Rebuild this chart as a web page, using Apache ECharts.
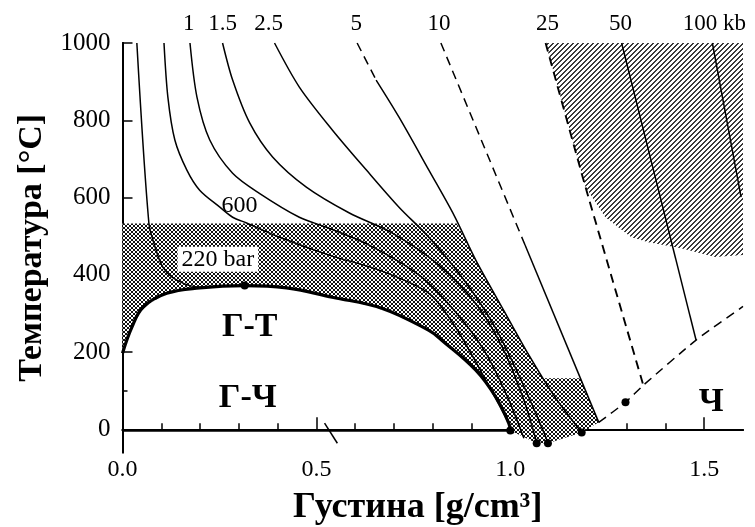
<!DOCTYPE html>
<html><head><meta charset="utf-8">
<script src="https://cdn.jsdelivr.net/npm/echarts@6/dist/echarts.min.js"></script>
<style>html,body{margin:0;padding:0;background:#fff}#c{width:755px;height:527px}</style>
</head><body><div id="c"></div>
<script>
// ---- axis ticks / labels ----
const xLabelValues = [0, 0.5, 1.0, 1.5];
const xMajorTicks = [0.5, 1.0, 1.5];
const xMinorTicks = [0.1,0.2,0.3,0.4,0.6,0.7,0.8,0.9,1.1,1.2,1.3,1.4];
const yMajorTicks = [0, 200, 400, 600, 800, 1000];
const yMinorTicks = [100];
const topLabelX = [0.171, 0.258, 0.377, 0.603, 0.816, 1.096, 1.284, 1.526];
const topLabels = ['1', '1.5', '2.5', '5', '10', '25', '50', '100 kb'];

// ---- curves [density, temperature] ----
const dome = [[0.0,197],[0.024,264],[0.053,316],[0.114,352],[0.199,366],[0.315,372],[0.423,366],[0.541,342],[0.67,313],[0.79,256],[0.824,230],[0.911,153],[0.963,83],[0.996,16],[1.0,-3]];
const iso220 = [[0.037,1000],[0.068,534],[0.084,472],[0.104,420],[0.140,386],[0.199,368],[0.25,370]];
const iso600 = [[0.107,1000],[0.117,860],[0.135,749],[0.166,671],[0.199,619],[0.251,575],[0.284,549],[0.320,534],[0.405,497],[0.533,451],[0.662,412],[0.790,352],[0.855,270],[0.919,160],[0.970,65],[1.009,-10]];
const iso1k = [[0.174,1000],[0.192,860],[0.225,749],[0.284,663],[0.353,611],[0.456,549],[0.526,523],[0.636,477],[0.765,399],[0.855,308],[0.932,205],[0.991,88],[1.035,-23]];
const iso15k = [[0.258,1000],[0.284,904],[0.328,793],[0.387,705],[0.474,627],[0.585,560],[0.696,508],[0.816,425],[0.914,321],[0.983,205],[1.035,75],[1.068,-34]];
const iso25k = [[0.392,1000],[0.456,886],[0.541,775],[0.629,671],[0.713,575],[0.790,497],[0.881,386],[0.958,269],[1.022,140],[1.068,36],[1.097,-34]];
const iso5kDash = [[0.605,1000],[0.654,904]];
const iso5k = [[0.654,904],[0.713,808],[0.790,671],[0.855,554],[0.911,438],[0.983,308],[1.048,192],[1.112,88],[1.156,28],[1.184,-8]];
const iso10kDash = [[0.821,1000],[1.038,477]];
const iso10k = [[1.038,477],[1.228,18]];
const iso25kbDash = [[1.091,1000],[1.194,627],[1.343,114]];
const iso50k = [[1.287,1000],[1.479,231]];
const iso100k = [[1.521,1000],[1.595,601]];
const meltLine = [[1.228,18],[1.297,70],[1.343,114],[1.479,231],[1.6,318]];
const zeroLine = [[0,-4.3],[1.0,-4.3]];
const arrowMark = [[0.521,16],[0.554,-36]];
const dots = [[0.315,372],[1.0,-3],[1.068,-36],[1.097,-36],[1.184,-8],[1.297,70]];

// ---- shaded regions ----
const crossUpper = [[0,533],[0.862,533],[0.911,438],[0.983,308],[1.048,192],[1.085,132],[1.181,132],[1.228,18],[1.184,-8],[1.097,-36],[1.068,-36]];
const hatchRegion = [[1.091,1000],[1.6,1000],[1.6,451],[1.528,446],[1.441,469],[1.356,484],[1.312,497],[1.245,549],[1.194,627]];

// ---- text annotations ----
const annText = ['600', '220 bar', 'Г-Т', 'Г-Ч', 'Ч'];
const annPos = [[0.302,580],[0.246,440],[0.328,264],[0.323,80],[1.518,70]];

function pattern(size, fn, color) {
  const c = document.createElement('canvas'); c.width = c.height = size;
  const g = c.getContext('2d'); g.fillStyle = '#fff'; g.fillRect(0,0,size,size);
  g.fillStyle = color;
  for (let i=0;i<size;i++) for (let j=0;j<size;j++) if (fn(i,j)) g.fillRect(i,j,1,1);
  return {image: c, repeat: 'repeat'};
}
const crossFill = pattern(4, (i,j)=> i===j || i+j===3, '#111');
const hatchFill = pattern(5, (i,j)=> (i+j)%5===0 || (i+j)%5===1, '#3a3a3a');

const SERIF = '"Liberation Serif","Times New Roman",serif';

function poly(points, fill) {
  return {type:'custom', coordinateSystem:'cartesian2d', silent:true, z:1, clip:true,
    data:[[0,0]],
    renderItem:(p, api)=>({type:'polygon', shape:{points: points.map(pt=>api.coord(pt))}, style:{fill: fill, stroke:null}})};
}
function line(data, opts={}) {
  return {type:'line', data, showSymbol:false, smooth: opts.smooth ?? 0.3, z: 3, silent:true,
    lineStyle:{color:'#000', width: opts.width || 1.5, type: opts.dash ? [9,6] : 'solid', opacity:1}};
}

const annStyles = [
  {fontSize:24, fontFamily:SERIF, color:'#000'},
  {fontSize:24, fontFamily:SERIF, color:'#000', backgroundColor:'#fff', padding:[1,4,0,4]},
  {fontSize:34, fontFamily:SERIF, fontWeight:'bold', color:'#000'},
  {fontSize:34, fontFamily:SERIF, fontWeight:'bold', color:'#000'},
  {fontSize:34, fontFamily:SERIF, fontWeight:'bold', color:'#000'}
];

const chart = echarts.init(document.getElementById('c'), null, {renderer:'canvas'});
chart.setOption({
  animation:false,
  backgroundColor:'#fff',
  grid:{left:122.5, right:12, top:43, bottom:74.5, containLabel:false, outerBoundsMode:'none'},
  xAxis:[
    {type:'value', position:'bottom', min:0, max:1.6,
     name:'Густина [g/cm³]', nameLocation:'middle', nameGap:37,
     nameTextStyle:{fontFamily:SERIF, fontWeight:'bold', fontSize:36, color:'#000', padding:[0,30,0,0]},
     axisLine:{lineStyle:{color:'#000', width:2}},
     axisTick:{inside:true, length:12, customValues:xMajorTicks, lineStyle:{color:'#000', width:1.5}},
     axisLabel:{customValues:xLabelValues, formatter:v=>v.toFixed(1), fontFamily:SERIF, fontSize:24, color:'#000', margin:5},
     splitLine:{show:false}},
    {type:'value', position:'bottom', min:0, max:1.6,
     axisLine:{show:false},
     axisTick:{inside:true, length:6, customValues:xMinorTicks, lineStyle:{color:'#000', width:1.5}},
     axisLabel:{show:false}, splitLine:{show:false}},
    {type:'value', position:'top', min:0, max:1.6,
     axisLine:{lineStyle:{color:'#000', width:2}},
     axisTick:{show:false},
     axisLabel:{customValues:topLabelX, formatter:v=>{let k=0,b=9;topLabelX.forEach((t,i)=>{if(Math.abs(t-v)<b){b=Math.abs(t-v);k=i;}});return topLabels[k];},
       fontFamily:SERIF, fontSize:23, color:'#000', margin:8},
     splitLine:{show:false}}
  ],
  yAxis:[
    {type:'value', position:'left', min:-60, max:1000,
     name:'Температура [°C]', nameLocation:'middle', nameGap:72, nameRotate:90,
     nameTextStyle:{fontFamily:SERIF, fontWeight:'bold', fontSize:34, color:'#000'},
     axisLine:{lineStyle:{color:'#000', width:2}},
     axisTick:{inside:true, length:10, customValues:yMajorTicks, lineStyle:{color:'#000', width:1.5}},
     axisLabel:{customValues:yMajorTicks, formatter:v=>String(v), fontFamily:SERIF, fontSize:25, color:'#000', margin:12},
     splitLine:{show:false}},
    {type:'value', position:'left', min:-60, max:1000,
     axisLine:{show:false},
     axisTick:{inside:true, length:5, customValues:yMinorTicks, lineStyle:{color:'#000', width:1.5}},
     axisLabel:{show:false}, splitLine:{show:false}},
    {type:'value', position:'right', min:-60, max:1000,
     axisLine:{lineStyle:{color:'#000', width:2}}, axisTick:{show:false}, axisLabel:{show:false}, splitLine:{show:false}}
  ],
  series:[
    poly(crossUpper.concat(dome.slice().reverse()), crossFill),
    poly(hatchRegion, hatchFill),
    line(dome, {width:3.2, smooth:0.4}),
    line(iso220), line(iso600), line(iso1k), line(iso15k), line(iso25k),
    line(iso5kDash, {dash:true, smooth:0}), line(iso5k),
    line(iso10kDash, {dash:true, smooth:0}), line(iso10k, {smooth:0}),
    line(iso25kbDash, {dash:true, width:1.9, smooth:0.2}),
    line(iso50k, {smooth:0}), line(iso100k, {smooth:0}),
    line(meltLine, {dash:true, smooth:0.2}),
    line(zeroLine, {width:1.6, smooth:0}),
    line(arrowMark, {width:1.5, smooth:0}),
    {type:'scatter', data:dots, symbolSize:8, itemStyle:{color:'#000', opacity:1}, z:4, silent:true},
    {type:'scatter', symbolSize:0, z:5, silent:true, itemStyle:{opacity:1},
     data: annText.map((t,i)=>({value:annPos[i], label:Object.assign({show:true, position:'inside', formatter:t, opacity:1}, annStyles[i])}))}
  ]
});
</script></body></html>
